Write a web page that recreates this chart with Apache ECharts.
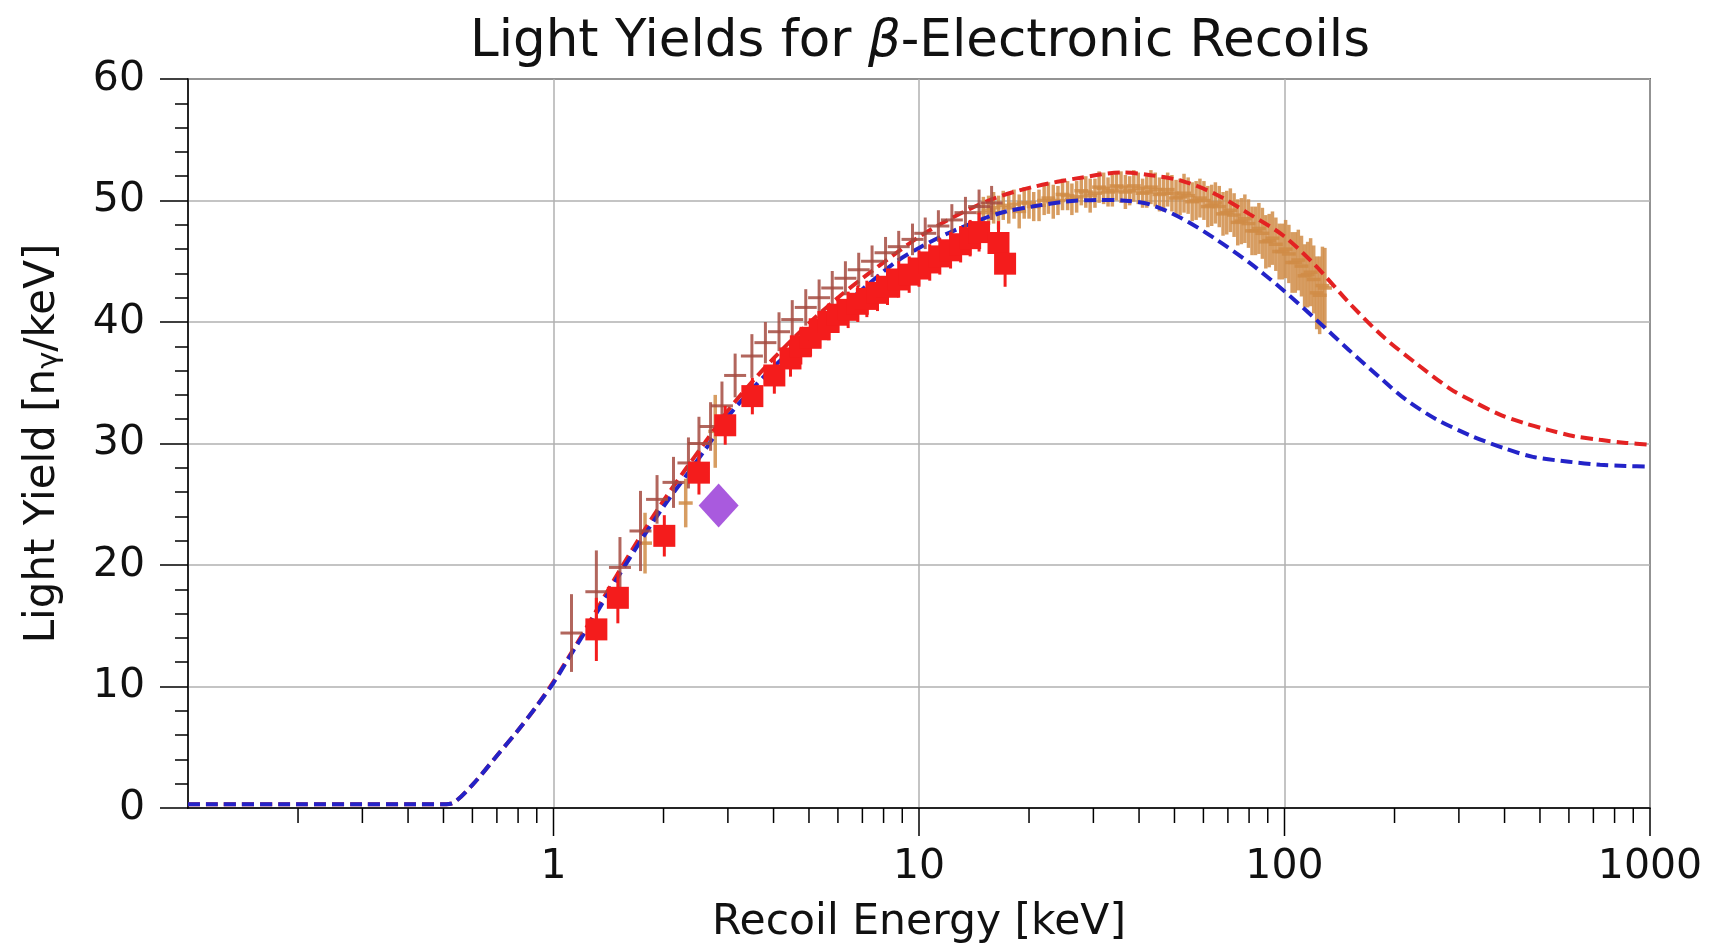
<!DOCTYPE html>
<html><head><meta charset="utf-8">
<script src="https://cdn.jsdelivr.net/npm/echarts@6/dist/echarts.min.js"></script>
<style>html,body{margin:0;padding:0;background:#fff;}#c{width:1713px;height:947px;}</style>
</head><body><div id="c"></div>
<script>
// ---- axis ticks ----
const xMajorTicks = [1, 10, 100, 1000];
const xTickLabels = ['1', '10', '100', '1000'];
const xMinorTicks = [0.2,0.3,0.4,0.5,0.6,0.7,0.8,0.9, 2,3,4,5,6,7,8,9, 20,30,40,50,60,70,80,90, 200,300,400,500,600,700,800,900];
const yTicks = [0, 10, 20, 30, 40, 50, 60];

// ---- model curves ----
const blueE = [0.1,0.2,0.3,0.4,0.5,0.53,0.6,0.7,0.8,0.9,1.0,1.12,1.25,1.5,1.75,2.0,2.3,2.6,3.0,3.5,4.0,5.0,6.0,7.0,8.6,10,12,15,17.3,20.4,25,31,36,42.6,52.6,65,80,99.4,122,150,186,215,260,326,400,478,600,730,860,1000];
const blueV = [0.3,0.3,0.3,0.3,0.3,0.4,1.9,4.3,6.4,8.4,10.3,12.7,15.0,19.0,22.2,24.8,27.3,29.5,32.2,34.5,36.3,39.0,41.0,42.7,44.9,46.1,47.3,48.5,49.1,49.5,49.9,50.05,50.0,49.7,48.5,46.8,44.9,42.6,40.2,37.7,35.2,33.6,32.0,30.6,29.6,28.9,28.5,28.25,28.15,28.1];
const redE = [0.1,0.2,0.3,0.4,0.5,0.53,0.6,0.7,0.8,0.9,1.0,1.12,1.25,1.5,1.75,2.0,2.3,2.6,3.0,3.5,4.0,5.0,6.0,7.0,8.6,10,12,15.8,20.4,28,36,42.6,52.6,65,80,99.4,122,150,186,229,284,326,387,450,530,620,730,860,1000];
const redV = [0.3,0.3,0.3,0.3,0.3,0.4,1.9,4.3,6.4,8.4,10.4,12.8,15.2,19.3,22.6,25.3,27.9,30.1,32.7,35.1,37.0,39.9,42.0,43.6,45.6,47.0,48.4,50.1,51.1,51.9,52.3,52.1,51.6,50.5,48.9,47.1,44.6,41.6,38.8,36.6,34.5,33.5,32.4,31.7,31.1,30.6,30.3,30.05,29.9];

// ---- data: red squares ----
const sqE = [1.31,1.50,2.01,2.50,2.95,3.50,4.02,4.45,4.75,5.05,5.35,5.65,6.0,6.4,6.8,7.2,7.7,8.2,8.8,9.4,10.0,10.7,11.4,12.2,13.0,13.8,14.6,16.5,17.2];
const sqV = [14.7,17.3,22.4,27.6,31.5,33.9,35.6,37.0,38.0,38.7,39.4,40.0,40.6,41.0,41.5,41.9,42.4,42.9,43.5,43.9,44.4,44.9,45.4,45.9,46.4,46.9,47.4,46.5,44.8];
const sqErr = [2.6,2.1,1.7,1.8,1.6,1.5,1.5,1.5,1.5,1.5,1.5,1.5,1.5,1.5,1.5,1.5,1.5,1.5,1.5,1.5,1.5,1.5,1.5,1.5,1.5,1.5,1.6,1.8,1.9];

// ---- data: brown crosses ----
const brE = [1.12,1.31,1.52,1.73,1.92,2.13,2.34,2.50,2.69,2.89,3.14,3.49,3.80,4.14,4.50,4.90,5.33,5.79,6.29,6.84,7.44,8.10,8.80,9.60,10.4,11.3,12.3,13.4,14.6,15.8];
const brV = [14.4,17.8,19.8,22.8,25.4,26.8,28.4,30.0,31.4,33.1,35.6,37.2,38.3,39.2,40.2,41.2,42.0,42.8,43.6,44.3,45.0,45.7,46.2,46.8,47.3,47.9,48.4,49.0,49.5,49.8];
const brErr = [3.2,3.4,2.5,3.3,2.0,2.1,2.1,2.2,2.0,2.0,1.8,1.8,1.7,1.6,1.6,1.5,1.5,1.4,1.4,1.4,1.3,1.3,1.3,1.3,1.3,1.3,1.3,1.3,1.4,1.4];

// ---- data: tan points ----
const tanE = [1.78,2.30,2.77,
  15.0,15.5,16.0,16.5,17.0,17.6,18.2,18.8,19.4,20.0,
  20.6,21.3,22.0,22.6,23.3,24.0,24.7,25.5,26.2,27.0,
  27.8,28.6,29.4,30.3,31.1,32.0,32.9,33.8,34.7,35.7,
  36.7,37.7,38.7,39.8,40.9,42.0,43.1,44.3,
  45.5,46.7,47.9,49.2,50.5,51.8,53.1,54.5,55.9,57.3,
  58.7,60.2,61.7,63.2,64.7,66.3,67.9,69.5,71.1,72.8,
  74.5,76.2,77.9,79.7,81.5,83.3,85.1,87.0,88.9,90.8,
  92.7,94.7,96.7,98.7,100.7,102.8,104.9,107.0,109.1,111.3,
  113.5,115.7,117.9,120.2,122.5,124.8,127.0,129.0];
const tanV = [21.8,25.1,31.0,
  49.0,49.2,49.4,49.0,49.6,49.4,49.7,49.1,49.8,49.8,
  49.5,49.6,50.0,50.2,49.9,50.0,50.5,50.4,50.1,50.3,
  50.8,50.7,50.4,50.6,51.1,51.0,50.7,50.8,51.2,51.1,
  50.7,50.8,51.2,51.0,50.6,50.7,51.1,50.9,
  50.5,50.6,50.9,50.6,50.2,50.3,50.6,50.4,49.9,50.0,
  50.2,50.0,49.5,49.6,49.8,49.5,48.9,49.0,49.2,48.8,
  48.2,48.3,48.5,48.1,47.5,47.5,47.7,47.3,46.6,46.7,
  46.9,46.4,45.8,45.8,46.0,45.6,44.9,44.9,45.1,44.6,
  43.8,43.9,44.1,43.5,42.4,42.2,43.0,42.8];
const tanErr = [2.5,2.0,3.0,
  1.3,1.2,1.3,1.4,1.2,1.3,1.2,1.4,1.3,1.3,
  1.2,1.3,1.2,1.3,1.4,1.2,1.3,1.2,1.3,1.3,
  1.2,1.3,1.4,1.2,1.3,1.3,1.2,1.3,1.2,1.3,
  1.4,1.2,1.3,1.3,1.2,1.3,1.4,1.4,
  1.4,1.5,1.4,1.5,1.5,1.5,1.6,1.5,1.6,1.6,
  1.6,1.6,1.7,1.7,1.7,1.7,1.8,1.8,1.8,1.8,
  1.9,1.9,2.0,2.0,2.0,2.0,2.1,2.1,2.2,2.2,
  2.2,2.2,2.3,2.3,2.4,2.4,2.5,2.5,2.5,2.5,
  2.6,2.7,2.8,2.8,3.0,3.2,3.2,3.3];

// ---- data: purple diamond ----
const dmE = [2.83];
const dmV = [24.9];
const dmErr = [1.6];

const FONT = 'DejaVu Sans';
const chart = echarts.init(document.getElementById('c'));

function errSeries(E, V, Err, color, arm, z, w) {
  return {
    type: 'custom', z: z, silent: true, clip: false,
    data: E.map((e, i) => [e, V[i], Err[i]]),
    encode: { x: 0, y: 1 },
    renderItem: function (params, api) {
      const x = api.value(0), v = api.value(1), er = api.value(2);
      const t = api.coord([x, v + er]), b = api.coord([x, v - er]), c = api.coord([x, v]);
      const ch = [{ type: 'line', shape: { x1: t[0], y1: t[1], x2: b[0], y2: b[1] }, style: { stroke: color, lineWidth: w || 3 } }];
      if (arm) ch.push({ type: 'line', shape: { x1: c[0] - arm, y1: c[1], x2: c[0] + arm, y2: c[1] }, style: { stroke: color, lineWidth: w || 3 } });
      return { type: 'group', children: ch };
    }
  };
}
function tickSeries(vals, len) {
  return {
    type: 'custom', z: 10, silent: true, clip: false,
    data: vals.map(v => [v, 0]),
    encode: { x: 0, y: 1 },
    renderItem: function (params, api) {
      const p = api.coord([api.value(0), 0]);
      return { type: 'line', shape: { x1: p[0], y1: p[1], x2: p[0], y2: p[1] + len }, style: { stroke: '#000', lineWidth: 1.5 } };
    }
  };
}

const tanColor = 'rgba(208,140,70,0.85)';
const brownColor = 'rgba(165,75,65,0.85)';
const sqColor = '#f41c1c';
const dmColor = '#a95ade';

chart.setOption({
  animation: false,
  backgroundColor: '#fff',
  title: {
    text: 'Light Yields for {it|β}-Electronic Recoils',
    left: 920, top: 17, textAlign: 'center', padding: 0,
    textStyle: { fontFamily: FONT, fontSize: 51.5, fontWeight: 'normal', color: '#111',
      rich: { it: { fontFamily: FONT, fontSize: 51.5, fontStyle: 'italic', color: '#111' } } }
  },
  grid: { left: 188, right: 63, top: 79, bottom: 139, show: true, borderColor: '#000', borderWidth: 1.5, backgroundColor: 'transparent', outerBoundsMode: 'none' },
  xAxis: {
    type: 'log', logBase: 10, min: 0.1, max: 1000,
    axisLine: { show: true, onZero: false, lineStyle: { color: '#000', width: 1.5 } },
    axisTick: { show: false }, minorTick: { show: false },
    splitLine: { show: true, lineStyle: { color: '#b0b0b0', width: 1.5 } },
    axisLabel: { fontFamily: FONT, fontSize: 41, color: '#111', margin: 39,
      formatter: function (v) { const i = xMajorTicks.findIndex(t => Math.abs(t - v) / t < 1e-6); return i >= 0 ? xTickLabels[i] : ''; } },
    name: 'Recoil Energy [keV]', nameLocation: 'middle', nameGap: 93,
    nameTextStyle: { fontFamily: FONT, fontSize: 42.5, color: '#111' }
  },
  yAxis: {
    type: 'value', min: 0, max: 60, interval: 10,
    axisLine: { show: true, onZero: false, lineStyle: { color: '#000', width: 1.5 } },
    axisTick: { show: true, length: 28, lineStyle: { color: '#000', width: 1.5 } },
    minorTick: { show: true, splitNumber: 5, length: 13, lineStyle: { color: '#000', width: 1.5 } },
    splitLine: { show: true, lineStyle: { color: '#b0b0b0', width: 1.5 } },
    axisLabel: { fontFamily: FONT, fontSize: 41, color: '#111', margin: 43,
      formatter: function (v) { return yTicks.indexOf(v) >= 0 ? String(v) : ''; } },
    name: 'Light Yield [n{sub|γ}/keV]', nameLocation: 'middle', nameGap: 124,
    nameTextStyle: { fontFamily: FONT, fontSize: 42, color: '#111',
      rich: { sub: { fontFamily: FONT, fontSize: 29, color: '#111', verticalAlign: 'bottom' } } }
  },
  series: [
    errSeries(tanE, tanV, tanErr, tanColor, 7, 3, 3.5),
    { type: 'line', z: 4, silent: true, showSymbol: false, smooth: 0.3,
      data: redE.map((e, i) => [e, redV[i]]),
      lineStyle: { color: '#e32222', width: 4, type: [12, 6] } },
    { type: 'line', z: 4, silent: true, showSymbol: false, smooth: 0.3,
      data: blueE.map((e, i) => [e, blueV[i]]),
      lineStyle: { color: '#2323c8', width: 4, type: [12, 6] } },
    errSeries(brE, brV, brErr, brownColor, 11, 5, 3),
    errSeries(sqE, sqV, sqErr, sqColor, 0, 6, 3),
    { type: 'scatter', z: 7, silent: true, symbol: 'rect', symbolSize: 22,
      data: sqE.map((e, i) => [e, sqV[i]]), itemStyle: { color: sqColor, opacity: 1 } },
    errSeries(dmE, dmV, dmErr, dmColor, 0, 8, 3),
    { type: 'scatter', z: 9, silent: true, symbol: 'diamond', symbolSize: [40, 44],
      data: dmE.map((e, i) => [e, dmV[i]]), itemStyle: { color: dmColor, opacity: 1 } },
    tickSeries(xMajorTicks, 28),
    tickSeries(xMinorTicks, 15)
  ]
});
</script></body></html>
